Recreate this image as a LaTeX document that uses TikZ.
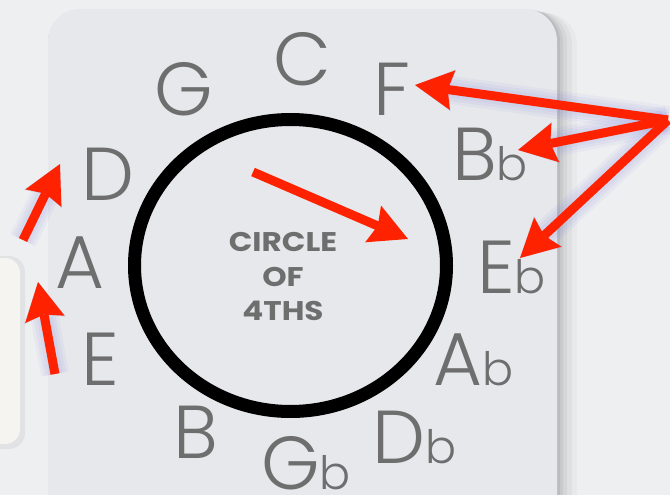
\documentclass[tikz,border=0pt]{standalone}
\usepackage{fontspec}
\usepackage{graphicx}
\setmainfont{Poppins}
\newfontfamily\notefont{Poppins Light}
\usetikzlibrary{arrows.meta,calc}
\definecolor{bgc}{HTML}{EEEFF1}
\definecolor{panelc}{HTML}{E6E8EB}
\definecolor{sidec}{HTML}{F6F4F1}
\definecolor{txtc}{HTML}{6E6E6E}
\definecolor{arrc}{HTML}{FF2200}
\definecolor{glowc}{RGB}{110,110,220}
\tikzset{
  letter/.style={anchor=base west, inner sep=0pt, text=txtc,
    font=\notefont\fontsize{75}{75}\selectfont},
  arr/.style={draw=arrc, line width=9pt,
    -{Stealth[length=38pt, width=40pt, inset=5pt, line width=0pt]}},
  glow/.style={draw=glowc, line width=#1, opacity=0.06,
    -{Stealth[length=38pt, width=40pt, inset=5pt]}},
}
\newcommand{\flatb}{{\fontsize{46}{46}\selectfont b}}
\newcommand{\glowarrow}[2]{%
  \foreach \w in {4,10,16,22,28}{
    \draw[glow=\w pt, shift={(4,5)}] (#1) -- (#2);
  }}
\begin{document}
\begin{tikzpicture}[x=1pt, y=-1pt]
\useasboundingbox (0,0) rectangle (670,495);
\fill[bgc] (0,0) rectangle (670,495);
% panel shadow (mostly to the right)
\foreach \s/\o in {20/0.025,15/0.035,10/0.045,6/0.055,3/0.065}{
  \fill[black, opacity=\o, rounded corners=32pt]
    (48,9+\s*0.2) rectangle (557+\s,540);
}
% left partial panel
\fill[black, opacity=0.05, rounded corners=16pt] (-20,256) rectangle (25,449);
\fill[sidec, rounded corners=15pt] (-20,258) rectangle (20,444);
% main panel
\fill[panelc, rounded corners=32pt] (48,9) rectangle (557,540);
% circle
\draw[line width=13pt, black] (290.5,265.5) ellipse [x radius=156, y radius=146];
% centre text
\node[text=txtc, align=center, inner sep=0pt, font=\bfseries\fontsize{27}{34.5}\selectfont]
  (title) at (283,277) {\scalebox{1.15}[1]{CIRCLE}\\\scalebox{1.15}[1]{OF}\\\scalebox{1.15}[1]{4THS}};
% letters
\node[letter] (nC)  at (273,85)  {C};
\node[letter] (nG)  at (154,115) {G};
\node[letter] (nF)  at (373,115) {F};
\node[letter] (nD)  at (81,200)  {D};
\node[letter] (nBb) at (452,180) {B\flatb};
\node[letter] (nA)  at (55,288)  {A};
\node[letter] (nEb) at (477,293) {E\flatb};
\node[letter] (nE)  at (81,385)  {E};
\node[letter] (nAb) at (433,385) {A\flatb};
\node[letter] (nB)  at (173,458) {B};
\node[letter] (nDb) at (372,463) {D\flatb};
\node[letter] (nGb) at (261,489) {G\flatb};
% arrow end points
\coordinate (src) at (668,120);
\coordinate (tF)  at (415,85);
\coordinate (tBb) at (518,150);
\coordinate (tEb) at (520,258);
\coordinate (iS)  at (253,172);
\coordinate (iT)  at (408,239);
\coordinate (dS)  at (23,240);
\coordinate (dT)  at (60,164);
\coordinate (aS)  at (55,374);
\coordinate (aT)  at (38,282);
% glows
\glowarrow{src}{tF}
\glowarrow{src}{tBb}
\glowarrow{src}{tEb}
\glowarrow{dS}{dT}
\glowarrow{aS}{aT}
% arrows
\draw[arr] (iS) -- (iT);
\draw[arr] (src) -- (tF);
\draw[arr] (src) -- (tBb);
\draw[arr] (src) -- (tEb);
\draw[arr] (dS) -- (dT);
\draw[arr] (aS) -- (aT);
\end{tikzpicture}
\end{document}
